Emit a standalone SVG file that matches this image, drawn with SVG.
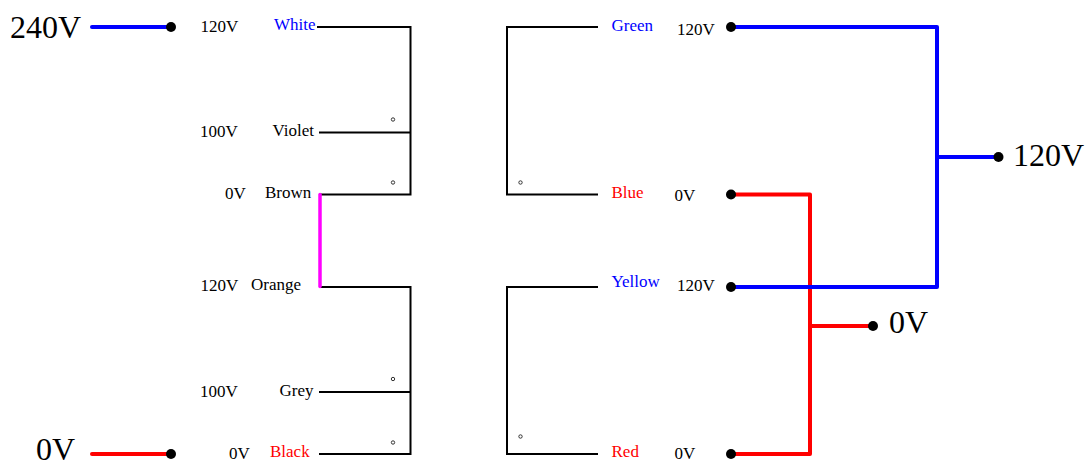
<svg xmlns="http://www.w3.org/2000/svg" width="1086" height="461" viewBox="0 0 1086 461">
<style>
text{font-family:"Liberation Serif","Times New Roman",serif;font-size:17px;fill:#000}
.big{font-size:32px}
.b{fill:#00f}
.r{fill:#f00}
.w{fill:none;stroke:#000;stroke-width:2}
.m{fill:none;stroke:#f0f;stroke-width:3.500;stroke-linecap:round}
.bw{fill:none;stroke:#00f;stroke-width:4;stroke-linecap:round;stroke-linejoin:round}
.rw{fill:none;stroke:#f00;stroke-width:4;stroke-linecap:round;stroke-linejoin:round}
.dot{fill:#000}
.mark{fill:#fff;stroke:#333;stroke-width:1}
</style>
<g id="connectors">
<path class="w" d="M317 27H410.500V194.500H320"/>
<path class="w" d="M319 132.500H410.500"/>
<path class="w" d="M320 287H410.500V454H319"/>
<path class="w" d="M319 392H410.500"/>
<path class="w" d="M598 27H507V194.500H598"/>
<path class="w" d="M598 287H507V454H598"/>
<path class="m" d="M320 194.500V286.500"/>
<path class="bw" d="M92 27H171"/>
<path class="rw" d="M92 454H171"/>
<path class="rw" d="M731 194.500H810V454H731"/>
<path class="rw" d="M810 326H872"/>
<path class="bw" d="M731 27H937V287H731"/>
<path class="bw" d="M937 157H998"/>
</g>
<g id="polarity-marks">
<circle class="mark" cx="393" cy="119.500" r="1.700"/>
<circle class="mark" cx="393" cy="182.500" r="1.700"/>
<circle class="mark" cx="393" cy="379" r="1.700"/>
<circle class="mark" cx="393" cy="442.500" r="1.700"/>
<circle class="mark" cx="520.500" cy="182.500" r="1.700"/>
<circle class="mark" cx="520.500" cy="436.500" r="1.700"/>
</g>
<g id="node-240v"><text class="big" x="10" y="38">240V</text><circle class="dot" cx="171" cy="27" r="5"/></g>
<g id="node-0v-in"><text class="big" x="36" y="460">0V</text><circle class="dot" cx="171" cy="454" r="5"/></g>
<g id="node-white"><text x="200.500" y="32">120V</text><text class="b" x="274" y="30">White</text></g>
<g id="node-violet"><text x="200" y="137">100V</text><text x="272.500" y="136">Violet</text></g>
<g id="node-brown"><text x="225" y="199">0V</text><text x="265" y="198">Brown</text></g>
<g id="node-orange"><text x="200.500" y="291">120V</text><text x="251" y="290">Orange</text></g>
<g id="node-grey"><text x="279.500" y="396">Grey</text><text x="200" y="397">100V</text></g>
<g id="node-black"><text x="229" y="459">0V</text><text class="r" x="270" y="457">Black</text></g>
<g id="node-green"><text class="b" x="611.500" y="31">Green</text><text x="677" y="35">120V</text><circle class="dot" cx="731" cy="27" r="5"/></g>
<g id="node-blue"><text class="r" x="611.500" y="198">Blue</text><text x="674.500" y="201">0V</text><circle class="dot" cx="731" cy="194.500" r="5"/></g>
<g id="node-yellow"><text class="b" x="611.500" y="287">Yellow</text><text x="677" y="291">120V</text><circle class="dot" cx="731" cy="287" r="5"/></g>
<g id="node-red"><text class="r" x="611.500" y="457">Red</text><text x="674.500" y="459">0V</text><circle class="dot" cx="731" cy="454" r="5"/></g>
<g id="node-120v-out"><circle class="dot" cx="998.500" cy="157" r="5"/><text class="big" x="1013" y="166">120V</text></g>
<g id="node-0v-out"><circle class="dot" cx="873" cy="326" r="5"/><text class="big" x="889" y="333">0V</text></g>
</svg>
